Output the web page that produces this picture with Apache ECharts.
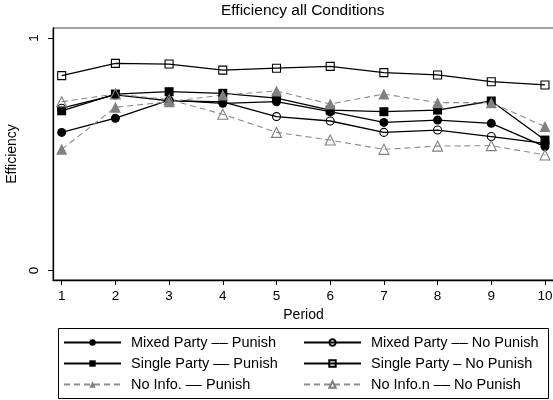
<!DOCTYPE html>
<html>
<head>
<meta charset="utf-8">
<script src="https://cdn.jsdelivr.net/npm/echarts@6/dist/echarts.min.js"></script>
<style>
html,body{margin:0;padding:0;background:#fff;}
#chart{width:553px;height:400px;}
</style>
</head>
<body>
<div id="chart"></div>
<script>
const periods = [1, 2, 3, 4, 5, 6, 7, 8, 9, 10];
const mixedPunish    = [0.594, 0.655, 0.733, 0.719, 0.726, 0.683, 0.637, 0.647, 0.633, 0.533];
const mixedNoPunish  = [0.698, 0.755, 0.730, 0.725, 0.662, 0.643, 0.594, 0.604, 0.576, 0.547];
const singlePunish   = [0.687, 0.759, 0.769, 0.762, 0.741, 0.690, 0.683, 0.690, 0.729, 0.561];
const singleNoPunish = [0.838, 0.891, 0.888, 0.862, 0.870, 0.878, 0.851, 0.841, 0.812, 0.798];
const noInfoPunish   = [0.521, 0.702, 0.726, 0.755, 0.772, 0.716, 0.759, 0.722, 0.722, 0.619];
const noInfoNoPunish = [0.726, 0.759, 0.735, 0.672, 0.594, 0.561, 0.521, 0.535, 0.537, 0.497];
const yTicks = [0, 1];
const seriesNames = [
  'Mixed Party \u2013\u2013 Punish',
  'Mixed Party \u2013\u2013 No Punish',
  'Single Party \u2013\u2013 Punish',
  'Single Party \u2013 No Punish',
  'No Info. \u2013\u2013 Punish',
  'No Info.n \u2013\u2013 No Punish'
];

const FONT = 'Liberation Sans, Arial, sans-serif';
const pairs = arr => periods.map((p, i) => [p, arr[i]]);

function mk(name, data, symbol, size, fill, stroke, lineColor, dashed) {
  return {
    name: name,
    type: 'line',
    data: pairs(data),
    symbol: symbol,
    symbolSize: size,
    showSymbol: true,
    animation: false,
    itemStyle: { color: fill, borderColor: stroke, borderWidth: fill === 'none' ? 1.1 : 0, opacity: 1 },
    lineStyle: { color: lineColor, width: dashed ? 1.1 : 1.3, type: dashed ? [6, 4] : 'solid' },
    emphasis: { disabled: true }
  };
}

const series = [
  mk(seriesNames[0], mixedPunish, 'circle', 9, '#000', '#000', '#000', false),
  mk(seriesNames[1], mixedNoPunish, 'circle', 8, 'none', '#000', '#000', false),
  mk(seriesNames[2], singlePunish, 'rect', 9, '#000', '#000', '#000', false),
  mk(seriesNames[3], singleNoPunish, 'rect', 8, 'none', '#000', '#000', false),
  mk(seriesNames[4], noInfoPunish, 'triangle', 11, '#808080', '#808080', '#8c8c8c', true),
  mk(seriesNames[5], noInfoNoPunish, 'triangle', 10, 'none', '#808080', '#8c8c8c', true)
];

const legendCommon = {
  orient: 'vertical',
  top: 335,
  height: 120,
  padding: 0,
  itemWidth: 57,
  itemHeight: 8,
  itemGap: 6,
  selectedMode: false,
  textStyle: { fontFamily: FONT, fontSize: 14.5, color: '#000', lineHeight: 14, padding: [0, 0, 0, 5] }
};

const chart = echarts.init(document.getElementById('chart'), null, { renderer: 'canvas' });
chart.setOption({
  animation: false,
  backgroundColor: '#fff',
  title: {
    text: 'Efficiency all Conditions',
    left: 221,
    top: 3,
    padding: 0,
    textStyle: { fontFamily: FONT, fontSize: 15.5, fontWeight: 'normal', color: '#000' }
  },
  grid: {
    left: 53, right: -1, top: 28, bottom: 120,
    containLabel: false, outerBoundsMode: 'none',
    show: true, borderColor: '#444', borderWidth: 1
  },
  xAxis: {
    type: 'value',
    min: 0.838,
    max: 10.168,
    name: 'Period',
    nameLocation: 'middle',
    nameGap: 21,
    nameTextStyle: { fontFamily: FONT, fontSize: 14, color: '#000' },
    axisLine: { show: true, onZero: false, lineStyle: { color: '#000', width: 1.3 } },
    axisTick: { show: true, length: 5, customValues: periods, lineStyle: { color: '#000' } },
    axisLabel: { customValues: periods, fontFamily: FONT, fontSize: 13.5, color: '#000', margin: 9 },
    splitLine: { show: false }
  },
  yAxis: {
    type: 'value',
    min: -0.0409,
    max: 1.043,
    name: 'Efficiency',
    nameLocation: 'middle',
    nameGap: 33,
    nameTextStyle: { fontFamily: FONT, fontSize: 14, color: '#000' },
    axisLine: { show: true, onZero: false, lineStyle: { color: '#000', width: 1.3 } },
    axisTick: { show: true, length: 5, customValues: yTicks, lineStyle: { color: '#000' } },
    axisLabel: { customValues: yTicks, rotate: 90, fontFamily: FONT, fontSize: 13.5, color: '#000', margin: 12 },
    splitLine: { show: false }
  },
  legend: [
    Object.assign({}, legendCommon, { left: 63, data: [seriesNames[0], seriesNames[2], seriesNames[4]] }),
    Object.assign({}, legendCommon, { left: 303, data: [seriesNames[1], seriesNames[3], seriesNames[5]] })
  ],
  graphic: [{
    type: 'rect',
    shape: { x: 58.5, y: 328.5, width: 490, height: 70 },
    style: { fill: 'none', stroke: '#000', lineWidth: 1 },
    silent: true
  }],
  series: series
});
</script>
</body>
</html>
